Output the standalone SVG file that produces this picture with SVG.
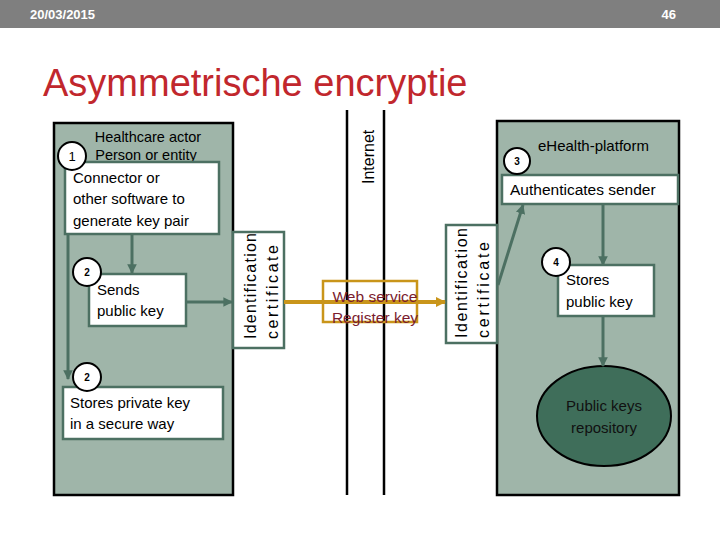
<svg xmlns="http://www.w3.org/2000/svg" width="720" height="540" viewBox="0 0 720 540">
<style>
.t{font-family:"Liberation Sans",Arial,sans-serif;fill:#000}
.lbl{font-size:15px}
.red{fill:#7b1c2e}
.dark{fill:#111}
.panel{fill:#9fb5a9;stroke:#000;stroke-width:2.5}
.box{fill:#fff;stroke:#4c7062;stroke-width:2.5}
.circ{fill:#fff;stroke:#000;stroke-width:2}
.num{font-family:"Liberation Sans",Arial,sans-serif;font-size:10px;font-weight:bold;text-anchor:middle}
.conn{stroke:#4c7062;stroke-width:3;fill:none}
.net{stroke:#000;stroke-width:2.5}
</style>
<defs>
<marker id="ag" viewBox="0 0 10 10" refX="9" refY="5" markerWidth="3.2" markerHeight="3.2" orient="auto" markerUnits="strokeWidth"><path d="M0,0L10,5L0,10z" fill="#4c7062"/></marker>
<marker id="ay" viewBox="0 0 10 10" refX="9" refY="5" markerWidth="2.6" markerHeight="2.6" orient="auto" markerUnits="strokeWidth"><path d="M0,0L10,5L0,10z" fill="#c9951a"/></marker>
</defs>
<rect width="720" height="540" fill="#fff"/>
<g id="header">
<rect x="0" y="0" width="720" height="28" fill="#7f7f7f"/>
<text x="30" y="19" font-family="Liberation Sans,Arial,sans-serif" font-size="13" font-weight="bold" fill="#fff">20/03/2015</text>
<text x="676" y="19" font-family="Liberation Sans,Arial,sans-serif" font-size="13" font-weight="bold" fill="#fff" text-anchor="end">46</text>
<text x="43" y="96" font-family="Liberation Sans,Arial,sans-serif" font-size="38" fill="#c1272d">Asymmetrische encryptie</text>
</g>
<g id="internet">
<line class="net" x1="347" y1="110" x2="347" y2="495"/>
<line class="net" x1="384" y1="110" x2="384" y2="495"/>
<text class="t" font-size="16" transform="translate(374,184) rotate(-90)">Internet</text>
</g>
<g id="healthcare-actor">
<rect class="panel" x="54" y="123" width="179" height="372"/>
<text class="t" font-size="14.5" x="148" y="142" text-anchor="middle">Healthcare actor</text>
<text class="t" font-size="14.5" x="146" y="160" text-anchor="middle">Person or entity</text>
</g>
<g id="ehealth-platform">
<rect class="panel" x="497" y="121" width="182" height="374"/>
<text class="t" font-size="15" x="538" y="151">eHealth-platform</text>
</g>
<g id="connector">
<rect class="box" x="65" y="162" width="154" height="72"/>
<text class="t lbl" x="73" y="183">Connector or</text>
<text class="t lbl" x="73" y="204">other software to</text>
<text class="t lbl" x="73" y="226">generate key pair</text>
</g>
<g id="circle1"><circle class="circ" cx="72" cy="156" r="14"/><text x="72" y="161" font-family="Liberation Sans,Arial,sans-serif" font-size="13" text-anchor="middle">1</text></g>
<g id="sends">
<rect class="box" x="89" y="274" width="97" height="52"/>
<text class="t lbl" x="97" y="295">Sends</text>
<text class="t lbl" x="97" y="316">public key</text>
</g>
<g id="stores-private">
<rect class="box" x="63" y="387" width="160" height="52"/>
<text class="t lbl" x="70" y="408">Stores private key</text>
<text class="t lbl" x="70" y="429">in a secure way</text>
</g>
<g id="idcert-left">
<rect class="box" x="233" y="232" width="51" height="116"/>
<text class="t" font-size="16" transform="translate(256,339) rotate(-90)" textLength="106" lengthAdjust="spacing">Identification</text>
<text class="t" font-size="16" transform="translate(278,339) rotate(-90)" textLength="94" lengthAdjust="spacing">certificate</text>
</g>
<g id="idcert-right">
<rect class="box" x="446" y="225" width="51" height="118"/>
<text class="t" font-size="16" transform="translate(467,338) rotate(-90)" textLength="110" lengthAdjust="spacing">Identification</text>
<text class="t" font-size="16" transform="translate(489,338) rotate(-90)" textLength="96" lengthAdjust="spacing">certificate</text>
</g>
<g id="authenticates">
<rect class="box" x="502" y="175" width="176" height="29"/>
<text class="t" font-size="15.5" x="510" y="195">Authenticates sender</text>
</g>
<g id="stores-public">
<rect class="box" x="558" y="265" width="96" height="51"/>
<text class="t lbl" x="566" y="285">Stores</text>
<text class="t lbl" x="566" y="307">public key</text>
</g>
<g id="repository">
<ellipse cx="604" cy="416" rx="67" ry="50" fill="#3f6e5a" stroke="#000" stroke-width="2"/>
<text class="t lbl dark" x="604" y="411" text-anchor="middle">Public keys</text>
<text class="t lbl dark" x="604" y="433" text-anchor="middle">repository</text>
</g>
<g id="connectors">
<line class="conn" x1="68" y1="234" x2="68" y2="379" marker-end="url(#ag)"/>
<line class="conn" x1="132" y1="234" x2="132" y2="273" marker-end="url(#ag)"/>
<line class="conn" x1="186" y1="302" x2="232" y2="302" marker-end="url(#ag)"/>
<line x1="284" y1="302" x2="445" y2="302" stroke="#c9951a" stroke-width="4" marker-end="url(#ay)"/>
<line class="conn" x1="498" y1="285" x2="523" y2="205" marker-end="url(#ag)"/>
<line class="conn" x1="603" y1="204" x2="603" y2="265" marker-end="url(#ag)"/>
<line class="conn" x1="603" y1="316" x2="603" y2="366" marker-end="url(#ag)"/>
</g>
<g id="web-service">
<rect x="323" y="281" width="94" height="41" fill="none" stroke="#c9951a" stroke-width="2.5"/>
<text class="t red" font-size="15.5" x="375" y="302" text-anchor="middle">Web service</text>
<text class="t red" font-size="15.5" x="375" y="323" text-anchor="middle">Register key</text>
</g>
<g id="circle2a"><circle class="circ" cx="87" cy="272" r="14"/><text class="num" x="87" y="276">2</text></g>
<g id="circle2b"><circle class="circ" cx="87" cy="377" r="14"/><text class="num" x="87" y="381">2</text></g>
<g id="circle3"><circle class="circ" cx="517" cy="161" r="13"/><text class="num" x="517" y="165">3</text></g>
<g id="circle4"><circle class="circ" cx="556" cy="262" r="14"/><text class="num" x="556" y="266">4</text></g>
</svg>
